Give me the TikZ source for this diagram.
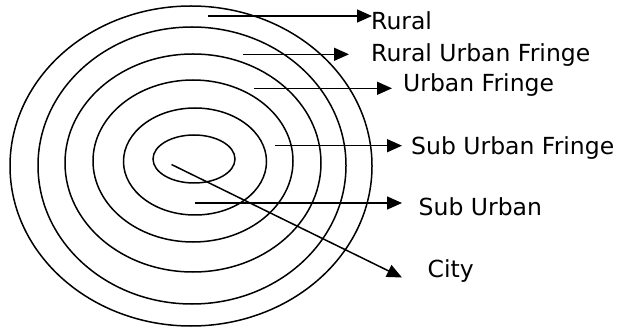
\documentclass[tikz,border=0pt]{standalone}
\usepackage{fontspec}
\setmainfont{DejaVu Sans}
\usetikzlibrary{arrows.meta}
\begin{document}
\begin{tikzpicture}[x=1pt, y=-1pt,
  ring/.style={line width=1.5pt},
  pointer/.style={line width=1.5pt, -{Triangle[length=15pt, width=13pt]}},
  zone/.style={anchor=base west, inner sep=0pt, font=\fontsize{23.5}{28}\selectfont}]
          \useasboundingbox (0,0) rectangle (617,328);

          \draw[ring] (191,166) ellipse [x radius=181pt, y radius=160pt];
          \draw[ring] (192,165.5) ellipse [x radius=154pt, y radius=138.5pt];
          \draw[ring] (193,163) ellipse [x radius=128pt, y radius=109pt];
          \draw[ring] (193,161) ellipse [x radius=100pt, y radius=81pt];
          \draw[ring] (195,161.5) ellipse [x radius=71.5pt, y radius=53.5pt];
          \draw[ring] (194,159) ellipse [x radius=41pt, y radius=24pt];

          \node[zone] (nRural) at (371,29.3) {Rural};
          \node[zone] (nRUF) at (371,61.7) {Rural Urban Fringe};
          \node[zone] (nUF) at (403,91.7) {Urban Fringe};
          \node[zone] (nSUF) at (411,154.3) {Sub Urban Fringe};
          \node[zone] (nSU) at (418.5,216) {Sub Urban};
          \node[zone] (nCity) at (427.5,277.3) {City};

          \coordinate (sRural) at (208,16);
          \coordinate (tRural) at (372,16);
          \coordinate (sRUF) at (243,54.3);
          \coordinate (tRUF) at (349,54.3);
          \coordinate (sUF) at (254,88.3);
          \coordinate (tUF) at (392,88.3);
          \coordinate (sSUF) at (275,145.7);
          \coordinate (tSUF) at (402,145.7);
          \coordinate (sSU) at (195,203);
          \coordinate (tSU) at (402,203);
          \coordinate (sCity) at (171.5,164.5);
          \coordinate (tCity) at (402,277.5);

          \draw[pointer] (sRural) -- (tRural);
          \draw[pointer] (sRUF) -- (tRUF);
          \draw[pointer] (sUF) -- (tUF);
          \draw[pointer] (sSUF) -- (tSUF);
          \draw[pointer] (sSU) -- (tSU);
          \draw[pointer] (sCity) -- (tCity);
\end{tikzpicture}
\end{document}
